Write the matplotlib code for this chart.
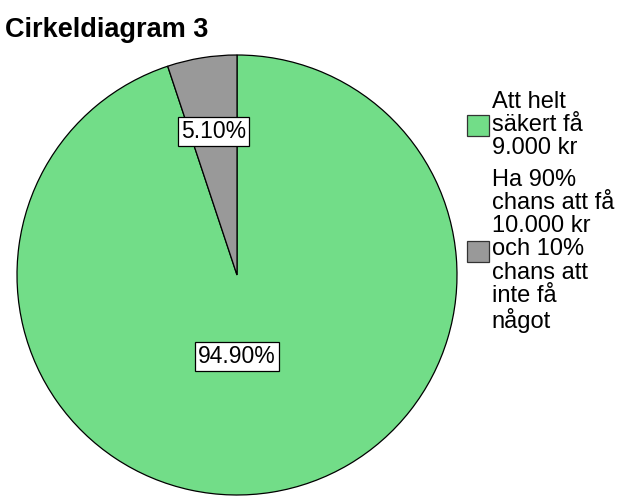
import matplotlib.pyplot as plt
from matplotlib.patches import Patch
import numpy as np

plt.rcParams['font.family'] = ['Liberation Sans', 'DejaVu Sans']

# Data
categories = ["Att helt\nsäkert få\n9.000 kr",
              "Ha 90%\nchans att få\n10.000 kr\noch 10%\nchans att\ninte få\nnågot"]
values = [94.90, 5.10]
colors = ["#72DD88", "#999999"]

W, H = 626, 501
fig = plt.figure(figsize=(W / 100, H / 100), dpi=100)

# pie area: centre (237, 275), radius 220 px
cx, cy, r = 237, 275, 220
ax = fig.add_axes([(cx - r) / W, (H - cy - r) / H, 2 * r / W, 2 * r / H])
wedges, _ = ax.pie(values, colors=colors, startangle=90, counterclock=False,
                   wedgeprops=dict(edgecolor="black", linewidth=0.9))
ax.set_xlim(-1, 1)
ax.set_ylim(-1, 1)
ax.set_aspect("equal")
ax.axis("off")

# label placement: large slice label goes straight below the centre
for w, v in zip(wedges, values):
    if v > 50:
        ang, d = -90.0, 0.37
    else:
        ang, d = (w.theta1 + w.theta2) / 2, 0.66
    a = np.deg2rad(ang)
    ax.text(d * np.cos(a), d * np.sin(a), f"{v:.2f}%", ha="center", va="center",
            fontsize=16.5,
            bbox=dict(boxstyle="square,pad=0.13", facecolor="white", edgecolor="black", linewidth=0.9))

fig.text(5 / W, 1 - 37 / H, "Cirkeldiagram 3", fontsize=19.5, fontweight="bold",
         ha="left", va="baseline")

handles = [Patch(facecolor=c, edgecolor="#333333", linewidth=0.9) for c in colors]
leg = fig.legend(handles, categories, loc="upper left",
                 bbox_to_anchor=(467 / W, 1 - 91 / H), frameon=False,
                 fontsize=17, handlelength=0.95, handleheight=0.95,
                 handletextpad=0.1, labelspacing=0.4, borderpad=0, borderaxespad=0)
for t in leg.get_texts():
    t.set_linespacing(1.07)

fig.savefig("out.png", dpi=100)
